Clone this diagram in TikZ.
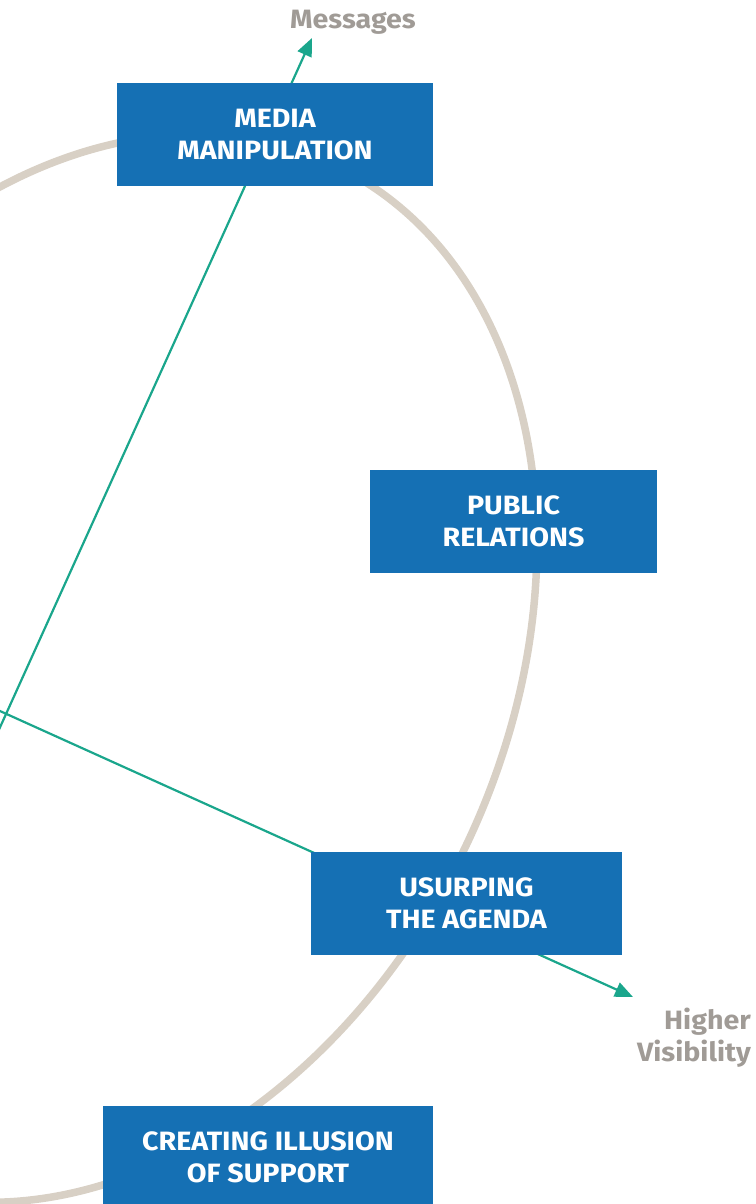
\documentclass[tikz,border=0pt]{standalone}
\usepackage{fontspec}
\setmainfont{Fira Sans}[FakeStretch=1.08]
\usetikzlibrary{arrows.meta}
\definecolor{boxblue}{RGB}{21,112,180}
\definecolor{linegreen}{RGB}{26,166,140}
\definecolor{ringgray}{RGB}{216,208,197}
\definecolor{labelgray}{RGB}{160,155,150}
\tikzset{
  stagebox/.style={fill=boxblue, text=white, inner sep=0pt, align=center,
    font=\fontsize{26.5}{32}\selectfont\bfseries},
  flowline/.style={draw=linegreen, line width=2.2pt},
  flowarrow/.style={flowline, -{Triangle[length=18pt,width=15pt]}},
  ring/.style={draw=ringgray, line width=7.5pt},
  outlabel/.style={text=labelgray, inner sep=0pt, font=\fontsize{26.5}{32}\selectfont\bfseries}
}
\begin{document}
\begin{tikzpicture}[x=1pt,y=-1pt]
\useasboundingbox (0,0) rectangle (755,1204);
\clip (0,0) rectangle (755,1204);
% cycle ring
\coordinate (ringc) at (93.5,668.3);
\draw[ring, rotate around={-25.6:(ringc)}] (ringc) ellipse [x radius=412.6, y radius=558];
% free ends
\coordinate (s1) at (-17.5,766);
\coordinate (s2) at (-20,702);
\coordinate (t1) at (312,38);
\coordinate (t2) at (633,997);
\draw[flowarrow] (s1) -- (t1);
\draw[flowarrow] (s2) -- (t2);
% boxes
\node[stagebox, minimum width=316pt, minimum height=103pt] (media) at (275,134.5) {MEDIA\\MANIPULATION};
\node[stagebox, minimum width=287pt, minimum height=103pt] (pr) at (513.5,521.5) {PUBLIC\\RELATIONS};
\node[stagebox, minimum width=311pt, minimum height=103pt] (usurp) at (466.5,903.5) {USURPING\\THE AGENDA};
\node[stagebox, minimum width=330pt, minimum height=103pt] (illusion) at (268,1157.5) {CREATING ILLUSION\\OF SUPPORT};
% outer labels
\node[outlabel] (msg) at (353,22) {Messages};
\node[outlabel, align=right, anchor=east] (vis) at (751,1038) {Higher\\Visibility};
\end{tikzpicture}
\end{document}
